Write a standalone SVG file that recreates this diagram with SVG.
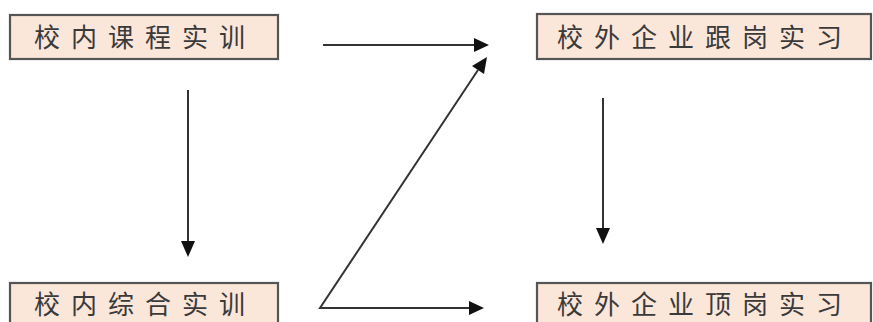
<svg xmlns="http://www.w3.org/2000/svg" width="873" height="322" viewBox="0 0 873 322">
<style>
.box{fill:#fbe6da;stroke:#555;stroke-width:2.2}
.lbl{font-family:"Noto Sans CJK SC","Noto Sans",sans-serif;font-size:26px;letter-spacing:11px;fill:#3a3a3a}
.conn{stroke:#333;stroke-width:2;fill:none}
.head{fill:#111}
</style>
<rect width="873" height="322" fill="#fff"/>
<g id="n1">
<rect class="box" x="10" y="15" width="268" height="44"/>
<text class="lbl" x="34" y="47">校内课程实训</text>
</g>
<g id="n2">
<rect class="box" x="537" y="14" width="334" height="45"/>
<text class="lbl" x="557" y="47">校外企业跟岗实习</text>
</g>
<g id="n3">
<rect class="box" x="10" y="283" width="268" height="45"/>
<text class="lbl" x="34" y="314">校内综合实训</text>
</g>
<g id="n4">
<rect class="box" x="537" y="283" width="334" height="45"/>
<text class="lbl" x="557" y="314">校外企业顶岗实习</text>
</g>
<g id="connectors">
<line class="conn" x1="323" y1="45" x2="476" y2="45"/>
<path class="head" d="M474,38 L489,45 L474,52 Z"/>
<line class="conn" x1="188" y1="90" x2="188" y2="243"/>
<path class="head" d="M181,241 L188,257 L195,241 Z"/>
<line class="conn" x1="603" y1="98" x2="603" y2="230"/>
<path class="head" d="M596,228 L603,244 L610,228 Z"/>
<polyline class="conn" points="478,70 320,308 470,308"/>
<path class="head" d="M469,301 L484,308 L469,315 Z"/>
<path class="head" d="M487,57 L484,74 L472,66 Z"/>
</g>
</svg>
